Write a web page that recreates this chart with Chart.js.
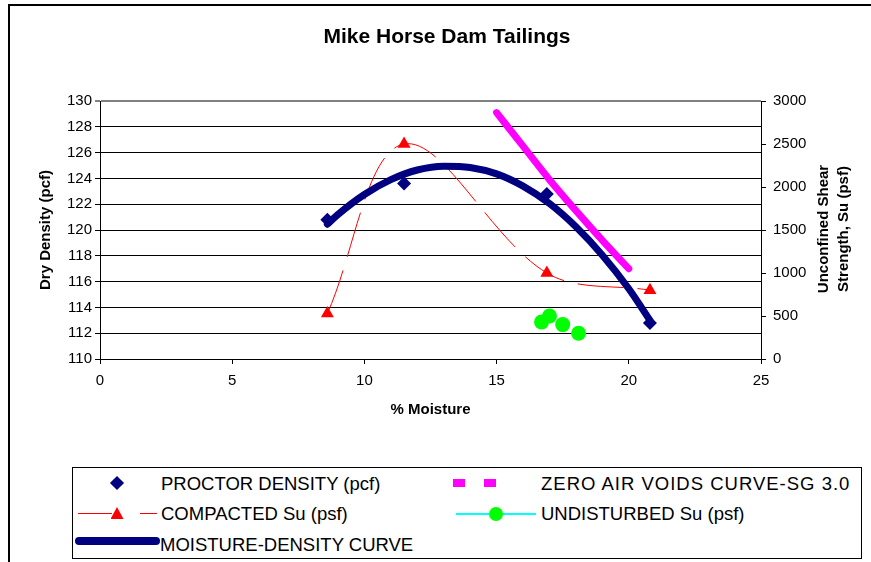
<!DOCTYPE html>
<html lang="en">
<head>
    <meta charset="UTF-8">
    <title>Mike Horse Dam Tailings</title>
    <script src="https://cdn.jsdelivr.net/npm/chart.js"></script>
    <style>
        body { margin: 0; background: #fff; font-family: "Liberation Sans", Arial, sans-serif; }
        #wrap { position: relative; width: 871px; height: 562px; overflow: hidden; }
        #frame { position: absolute; left: 8px; top: 4px; width: 900px; height: 600px; border: 2px solid #000; box-sizing: border-box; }
        canvas { position: absolute; left: 0; top: 0; }
        #legend { position: absolute; left: 72px; top: 467px; width: 790px; height: 92px; border: 1px solid #000; box-sizing: border-box; background: #fff; }
        .lbl { position: absolute; font-size: 18.5px; line-height: 20px; color: #000; white-space: nowrap; transform: translateY(-50%); }
        .sym { position: absolute; }
    </style>
</head>
<body>
<div id="wrap">
    <div id="frame"></div>
    <canvas id="chart" width="871" height="562"></canvas>
    <div id="legend"></div>
</div>
<script>
    // data
    const proctorX = [8.6, 11.5, 16.9, 20.8];
    const proctorDensity = [120.8, 123.6, 122.8, 112.8];

    const compactedX = [8.6, 11.5, 16.9, 20.8];
    const compactedSu = [530, 2500, 1000, 800];

    const undisturbedX = [16.7, 17.0, 17.5, 18.1];
    const undisturbedSu = [430, 500, 400, 300];

    const zavX = [15, 16, 17, 18, 19, 20];
    const zavDensity = [129.1, 126.5, 123.9, 121.5, 119.2, 117.0];

    // moisture-density trend curve
    const curveX = [8.6, 9, 10, 11, 12, 13, 14, 15, 16, 17, 18, 19, 20, 20.8];
    const curveDensity = [120.45, 121.2, 122.75, 123.9, 124.65, 124.95, 124.85, 124.35, 123.4, 122.05, 120.25, 118.05, 115.45, 113.0];

    const xTicks = [0, 5, 10, 15, 20, 25];

    const pts = (xs, ys) => xs.map((x, i) => ({ x: x, y: ys[i] }));
    const FONT = '"Liberation Sans", Arial, sans-serif';

    // title + right axis title drawn on the canvas
    const extraText = {
        id: 'extraText',
        afterDraw(chart) {
            const ctx = chart.ctx;
            ctx.save();
            ctx.fillStyle = '#000';
            ctx.font = 'bold 21px ' + FONT;
            ctx.textAlign = 'center';
            ctx.textBaseline = 'alphabetic';
            ctx.fillText('Mike Horse Dam Tailings', 447, 43);

            ctx.font = 'bold 15px ' + FONT;
            [['Unconfined Shear', 828], ['Strength, Su (psf)', 848]].forEach(([t, x]) => {
                ctx.save();
                ctx.translate(x, 229);
                ctx.rotate(-Math.PI / 2);
                ctx.fillText(t, 0, 0);
                ctx.restore();
            });
            ctx.restore();
        }
    };

    const chart = new Chart(document.getElementById('chart'), {
        type: 'scatter',
        data: {
            datasets: [
                {
                    label: 'UNDISTURBED Su (psf)',
                    data: pts(undisturbedX, undisturbedSu),
                    yAxisID: 'y1',
                    showLine: false,
                    pointStyle: 'circle',
                    pointRadius: 7.5,
                    backgroundColor: '#00ff00',
                    borderColor: '#00ff00',
                    borderWidth: 0
                },
                {
                    label: 'PROCTOR DENSITY (pcf)',
                    data: pts(proctorX, proctorDensity),
                    yAxisID: 'y',
                    showLine: false,
                    pointStyle: 'rectRot',
                    pointRadius: 7,
                    backgroundColor: '#000080',
                    borderColor: '#000080',
                    borderWidth: 0
                },
                {
                    label: 'MOISTURE-DENSITY CURVE',
                    data: pts(curveX, curveDensity),
                    yAxisID: 'y',
                    showLine: true,
                    pointRadius: 0,
                    borderColor: '#000080',
                    borderWidth: 7,
                    borderCapStyle: 'round',
                    cubicInterpolationMode: 'monotone'
                },
                {
                    label: 'COMPACTED Su (psf)',
                    data: pts(compactedX, compactedSu),
                    yAxisID: 'y1',
                    showLine: true,
                    borderColor: '#ff0000',
                    borderWidth: 1,
                    borderDash: [46, 14],
                    tension: 0.35,
                    pointStyle: 'triangle',
                    pointRadius: 7.5,
                    pointBackgroundColor: '#ff0000',
                    pointBorderColor: '#ff0000',
                    pointBorderWidth: 0
                },
                {
                    label: 'ZERO AIR VOIDS CURVE-SG 3.0',
                    data: pts(zavX, zavDensity),
                    yAxisID: 'y',
                    showLine: true,
                    pointRadius: 0,
                    borderColor: '#ff00ff',
                    borderWidth: 7,
                    borderCapStyle: 'round',
                    cubicInterpolationMode: 'monotone'
                }
            ]
        },
        options: {
            responsive: false,
            animation: false,
            devicePixelRatio: 1,
            layout: { padding: { top: 101, left: 0, right: 0, bottom: 0 } },
            plugins: {
                legend: { display: false },
                tooltip: { enabled: false },
                title: { display: false }
            },
            scales: {
                x: {
                    type: 'linear',
                    min: 0, max: 25,
                    afterBuildTicks: s => { s.ticks = xTicks.map(v => ({ value: v })); },
                    afterFit: s => { s.height = 203; },
                    ticks: { color: '#000', font: { family: FONT, size: 15 }, padding: 8 },
                    grid: { drawOnChartArea: false, color: '#000', tickLength: 5 },
                    border: { color: '#000', width: 1 },
                    title: { display: true, text: '% Moisture', color: '#000', font: { family: FONT, size: 15, weight: 'bold' }, padding: { top: 0, bottom: 143 } }
                },
                y: {
                    position: 'left',
                    min: 110, max: 130,
                    afterFit: s => { s.width = 100; },
                    ticks: { stepSize: 2, color: '#000', font: { family: FONT, size: 15 }, padding: 3 },
                    grid: {
                        color: c => (c.tick && c.tick.value === 130) ? '#808080' : '#000',
                        lineWidth: c => (c.tick && c.tick.value === 130) ? 2 : 1,
                        tickLength: 5
                    },
                    border: { color: '#000', width: 1 },
                    title: { display: true, text: 'Dry Density (pcf)', color: '#000', font: { family: FONT, size: 15, weight: 'bold' }, padding: { top: 37, bottom: 0 } }
                },
                y1: {
                    position: 'right',
                    min: 0, max: 3000,
                    afterFit: s => { s.width = 110; },
                    ticks: { stepSize: 500, color: '#000', font: { family: FONT, size: 15 }, padding: 7, callback: v => String(v) },
                    grid: { drawOnChartArea: false, color: '#000', tickLength: 5 },
                    border: { color: '#000', width: 1 }
                }
            }
        }
        ,
        plugins: [extraText]
    });

    // legend, laid out like the original two-column box
    const legend = document.getElementById('legend');
    const L = 72, T = 467;
    function addSym(css) {
        const d = document.createElement('div');
        d.className = 'sym';
        Object.assign(d.style, css);
        legend.appendChild(d);
    }
    function addLabel(text, x, y, spacing) {
        const s = document.createElement('span');
        s.className = 'lbl';
        s.textContent = text;
        s.style.left = (x - L - 1) + 'px';
        s.style.top = (y - T - 1) + 'px';
        if (spacing) s.style.letterSpacing = spacing;
        legend.appendChild(s);
    }
    const px = v => v + 'px';

    // PROCTOR DENSITY
    addSym({ left: px(117 - L - 1 - 5), top: px(483 - T - 1 - 5), width: '10px', height: '10px', background: '#000080', transform: 'rotate(45deg)' });
    addLabel('PROCTOR DENSITY (pcf)', 161, 484);
    // COMPACTED Su
    addSym({ left: px(78 - L - 1), top: px(513 - T - 1), width: '34px', height: '1px', background: '#ff0000' });
    addSym({ left: px(140 - L - 1), top: px(513 - T - 1), width: '17px', height: '1px', background: '#ff0000' });
    addSym({ left: px(117 - L - 1 - 6.5), top: px(514 - T - 1 - 7), width: '13px', height: '12px', background: '#ff0000', clipPath: 'polygon(50% 0, 100% 100%, 0 100%)' });
    addLabel('COMPACTED Su (psf)', 161, 514);
    // MOISTURE-DENSITY CURVE
    addSym({ left: px(75 - L - 1), top: px(541 - T - 1 - 4), width: '85px', height: '8px', background: '#000080', borderRadius: '4px' });
    addLabel('MOISTURE-DENSITY CURVE', 160, 545);
    // ZERO AIR VOIDS
    addSym({ left: px(453 - L - 1), top: px(483 - T - 1 - 4), width: '12px', height: '8px', background: '#ff00ff' });
    addSym({ left: px(484 - L - 1), top: px(483 - T - 1 - 4), width: '12px', height: '8px', background: '#ff00ff' });
    addLabel('ZERO AIR VOIDS CURVE-SG 3.0', 541, 484, '1px');
    // UNDISTURBED Su
    addSym({ left: px(456 - L - 1), top: px(514 - T - 1 - 1), width: '80px', height: '2px', background: '#00ffff' });
    addSym({ left: px(496 - L - 1 - 7), top: px(514 - T - 1 - 7), width: '14px', height: '14px', background: '#00ff00', borderRadius: '50%' });
    addLabel('UNDISTURBED Su (psf)', 541, 514);
</script>
</body>
</html>
